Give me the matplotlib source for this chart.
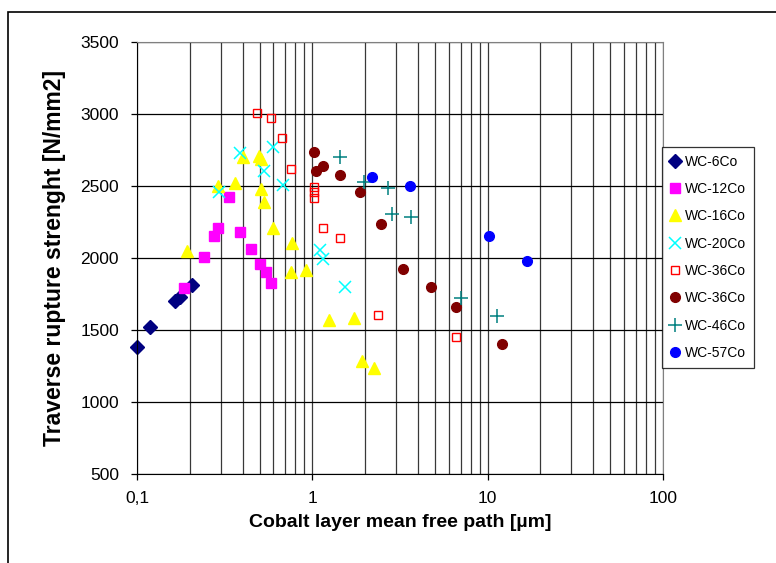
import numpy as np
import matplotlib.pyplot as plt
from matplotlib.ticker import FixedLocator, LogLocator, NullFormatter
from matplotlib.patches import Rectangle

plt.rcParams['font.family'] = ['Liberation Sans', 'DejaVu Sans']

# data (x: mean free path in um, y: strength in N/mm2)
wc6_x = [0.10, 0.118, 0.165, 0.177, 0.206]
wc6_y = [1384, 1523, 1701, 1731, 1812]

wc12_x = [0.185, 0.242, 0.274, 0.290, 0.337, 0.385, 0.447, 0.50, 0.547, 0.581]
wc12_y = [1790, 2009, 2153, 2211, 2426, 2178, 2060, 1956, 1905, 1829]

wc16_x = [0.193, 0.289, 0.36, 0.40, 0.494, 0.51, 0.51, 0.532, 0.594, 0.766,
          0.756, 0.92, 1.245, 1.736, 1.93, 2.26]
wc16_y = [2051, 2500, 2523, 2702, 2710, 2690, 2477, 2391, 2206, 2102,
          1900, 1917, 1567, 1581, 1287, 1236]

wc20_x = [0.388, 0.597, 0.532, 0.68, 0.292, 1.10, 1.15, 1.54]
wc20_y = [2731, 2769, 2606, 2505, 2460, 2056, 1991, 1801]

wc36a_x = [0.486, 0.578, 0.675, 0.76, 1.02, 1.02, 1.02, 1.145, 1.43, 2.37, 6.63]
wc36a_y = [3010, 2970, 2836, 2620, 2490, 2455, 2415, 2211, 2141, 1604, 1454]

wc36b_x = [1.02, 1.145, 1.044, 1.44, 1.86, 2.47, 3.30, 4.75, 6.6, 12.1]
wc36b_y = [2738, 2641, 2604, 2579, 2458, 2234, 1924, 1801, 1660, 1403]

wc46_x = [1.445, 1.96, 2.69, 2.86, 3.64, 7.08, 11.3]
wc46_y = [2704, 2526, 2488, 2303, 2283, 1720, 1600]

wc57_x = [2.19, 3.62, 10.2, 16.8]
wc57_y = [2563, 2500, 2155, 1979]

x_ticks = [0.1, 1, 10, 100]
x_ticklabels = ['0,1', '1', '10', '100']
y_ticks = [500, 1000, 1500, 2000, 2500, 3000, 3500]

fig = plt.figure(figsize=(7.76, 5.63), dpi=100)
ax = fig.add_axes([0.1765, 0.1581, 0.6779, 0.7673])

ax.plot(wc6_x, wc6_y, ls='none', marker='D', ms=7.5, color='#000080', label='WC-6Co', clip_on=False)
ax.plot(wc12_x, wc12_y, ls='none', marker='s', ms=6.5, color='#FF00FF', label='WC-12Co')
ax.plot(wc16_x, wc16_y, ls='none', marker='^', ms=8, color='#FFFF00', label='WC-16Co')
ax.plot(wc20_x, wc20_y, ls='none', marker='x', ms=8, mew=1.1, color='#00FFFF', label='WC-20Co')
ax.plot(wc36a_x, wc36a_y, ls='none', marker='s', ms=6, mfc='none', mec='#FF0000', mew=1.0,
        label='WC-36Co')
ax.plot(wc36b_x, wc36b_y, ls='none', marker='o', ms=7, color='#800000', label='WC-36Co')
ax.plot(wc46_x, wc46_y, ls='none', marker='+', ms=10, mew=1.1, color='#008080', label='WC-46Co')
ax.plot(wc57_x, wc57_y, ls='none', marker='o', ms=7, color='#0000FF', label='WC-57Co')

ax.set_xscale('log')
ax.set_xlim(0.1, 100)
ax.set_ylim(500, 3500)

ax.xaxis.set_major_locator(FixedLocator(x_ticks))
ax.set_xticklabels(x_ticklabels)
ax.xaxis.set_minor_locator(LogLocator(base=10, subs=np.arange(2, 10)))
ax.xaxis.set_minor_formatter(NullFormatter())
ax.set_yticks(y_ticks)

ax.grid(True, axis='x', which='both', color='#383838', lw=0.9)
ax.grid(True, axis='y', which='major', color='black', lw=0.9)
ax.set_axisbelow(True)

ax.tick_params(axis='both', which='major', labelsize=12.5, direction='out', length=4,
               width=0.9, color='black')
ax.tick_params(axis='x', which='major', pad=8)
ax.tick_params(axis='y', which='major', pad=9)
ax.tick_params(axis='x', which='minor', length=0)
for side in ['top', 'right']:
    ax.spines[side].set_color('#808080')
for side in ['left', 'bottom']:
    ax.spines[side].set_color('black')

ax.set_xlabel('Cobalt layer mean free path [µm]', fontsize=14, fontweight='bold', labelpad=6)
ax.set_ylabel('Traverse rupture strenght [N/mm2]', fontsize=16.5, fontweight='bold', labelpad=10)

leg = ax.legend(loc='upper left', bbox_to_anchor=(0.9985, 0.757), frameon=True, fancybox=False,
                fontsize=10, handlelength=0.8, handletextpad=0.3, labelspacing=0.96,
                borderpad=0.55, borderaxespad=0)
leg.get_frame().set_edgecolor('black')
leg.get_frame().set_linewidth(0.9)

# page frame around the chart
fig.patches.append(Rectangle((8 / 776, -0.1), 1.2, 1 - 12 / 563 + 0.1, transform=fig.transFigure,
                             fill=False, edgecolor='black', lw=1.2))

fig.savefig('out.png', dpi=100)
